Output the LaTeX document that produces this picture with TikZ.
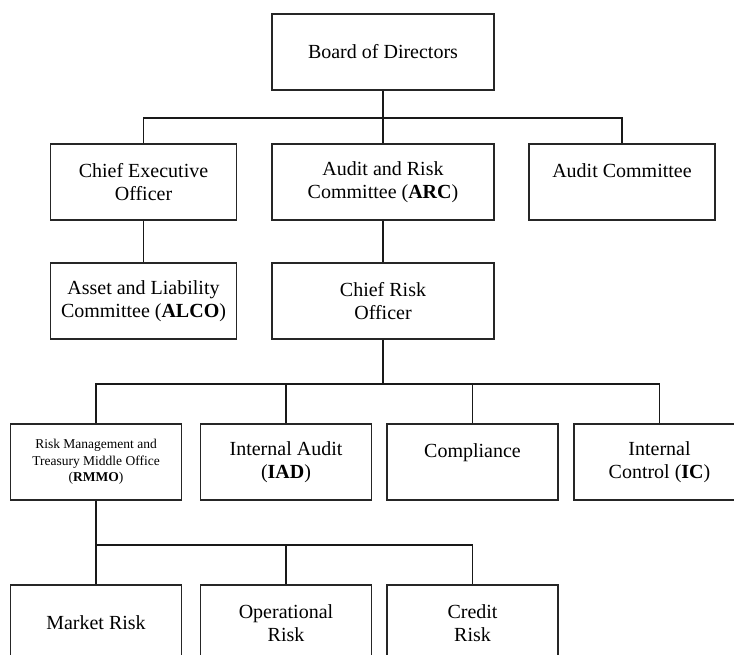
\documentclass[tikz,border=0pt]{standalone}
\usepackage{fontspec}
\setmainfont{Liberation Serif}
\usetikzlibrary{calc}

\begin{document}
\begin{tikzpicture}[x=1pt, y=1pt,
    unit/.style = {draw=black!85, line width=1.1pt, minimum height=76pt, inner sep=0pt,
      align=center, font=\fontsize{20}{23}\selectfont},
    bigbox/.style = {unit, minimum width=222pt},
    medbox/.style = {unit, minimum width=186pt},
    smallbox/.style = {unit, minimum width=171pt},
    link/.style = {draw=black!90, line width=1.1pt}]
  \useasboundingbox (0,0) rectangle (734,-654);
  \node[bigbox] (bod) at (383,-52) {Board of Directors};
  \node[medbox] (ceo) at (143.5,-182) {Chief Executive\\Officer};
  \node[bigbox] (arc) at (383,-182) {Audit and Risk\\Committee (\textbf{ARC})};
  \node[medbox] (ac) at (622,-182) {Audit Committee\\\phantom{A}};
  \node[medbox] (alco) at (143.5,-301) {Asset and Liability\\Committee (\textbf{ALCO})};
  \node[bigbox] (cro) at (383,-301) {Chief Risk\\Officer};
  \node[smallbox, font=\fontsize{13.5}{16.5}\selectfont] (rmmo) at (96,-462)
    {Risk Management and\\Treasury Middle Office\\(\textbf{RMMO})};
  \node[smallbox] (iad) at (286,-462) {Internal Audit\\(\textbf{IAD})};
  \node[smallbox] (comp) at (472.5,-462) {Compliance\\\phantom{A}};
  \node[smallbox] (ic) at (659.5,-462) {Internal\\Control (\textbf{IC})};
  \node[smallbox] (mkt) at (96,-623) {Market Risk};
  \node[smallbox] (opr) at (286,-623) {Operational\\Risk};
  \node[smallbox] (crd) at (472.5,-623) {Credit\\Risk};

  \coordinate (bodbus) at (383,-118);
  \coordinate (crobus) at (383,-384);
  \coordinate (rmbus) at (96,-545);

  \draw[link] (bod) -- (bodbus) -- (arc);
  \draw[link] (ceo.north) -- (ceo.north |- bodbus) -- (ac.north |- bodbus) -- (ac.north);
  \draw[link] (ceo) -- (alco);
  \draw[link] (arc) -- (cro);
  \draw[link] (cro) -- (crobus);
  \draw[link] (rmmo.north) -- (rmmo.north |- crobus) -- (ic.north |- crobus) -- (ic.north);
  \draw[link] (iad.north) -- (iad.north |- crobus);
  \draw[link] (comp.north) -- (comp.north |- crobus);
  \draw[link] (rmmo) -- (rmbus);
  \draw[link] (mkt.north) -- (mkt.north |- rmbus) -- (crd.north |- rmbus) -- (crd.north);
  \draw[link] (opr.north) -- (opr.north |- rmbus);
\end{tikzpicture}
\end{document}
